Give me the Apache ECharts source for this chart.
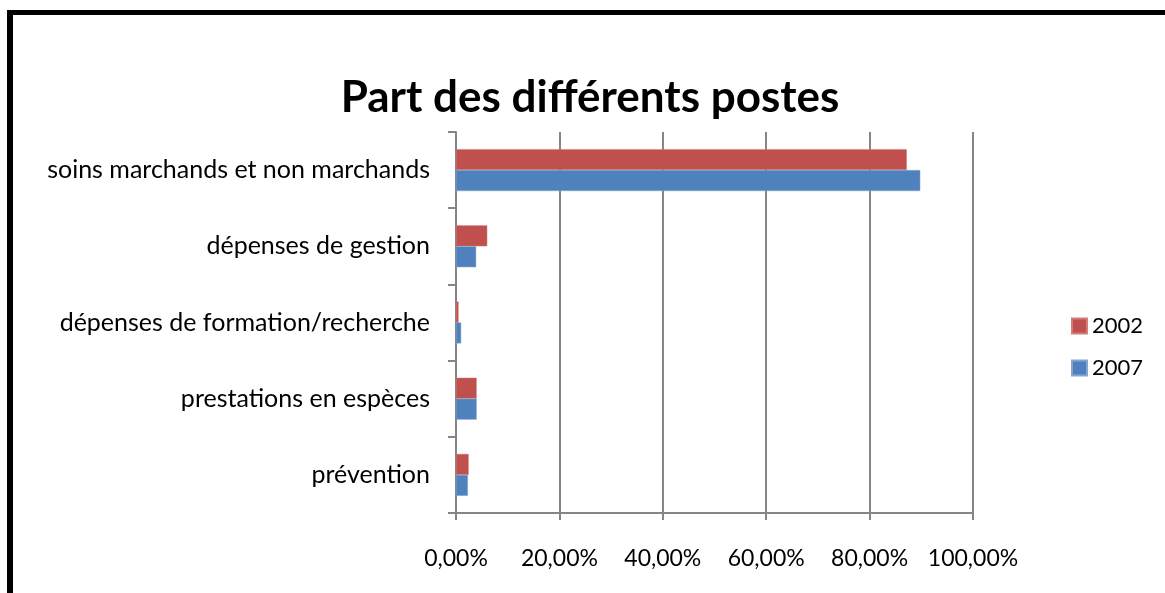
<!DOCTYPE html>
<html>
<head>
<meta charset="utf-8">
<script src="https://cdn.jsdelivr.net/npm/echarts@6/dist/echarts.min.js"></script>
<style>
  html, body { margin: 0; padding: 0; background: #fff; }
  #chart { width: 1165px; height: 593px; }
</style>
</head>
<body>
<div id="chart"></div>
<script>
// Categories listed bottom to top (category axis grows upward)
const categories = [
  'prévention',
  'prestations en espèces',
  'dépenses de formation/recherche',
  'dépenses de gestion',
  'soins marchands et non marchands'
];
const seriesNames = ['2002', '2007'];
const values2002 = [2.45, 4.0, 0.5, 6.05, 87.2];
const values2007 = [2.3, 4.0, 1.0, 3.9, 89.8];
const xTicks = [0, 20, 40, 60, 80, 100];

const FONT = 'Lato, "Open Sans", sans-serif';
const chart = echarts.init(document.getElementById('chart'), null, { renderer: 'canvas' });

const fmt = v => v.toFixed(2).replace('.', ',') + '%';

chart.setOption({
  backgroundColor: '#ffffff',
  animation: false,
  title: {
    text: 'Part des différents postes',
    left: 585,
    textAlign: 'center',
    top: 71,
    textStyle: { fontFamily: FONT, fontWeight: 'bold', fontSize: 44, color: '#000' }
  },
  legend: {
    orient: 'vertical',
    left: 1066,
    top: 310,
    icon: 'rect',
    itemWidth: 15,
    itemHeight: 15,
    itemGap: 20,
    data: seriesNames,
    textStyle: { fontFamily: FONT, fontSize: 22, color: '#000' }
  },
  grid: { left: 456, right: 192, top: 132, bottom: 80, containLabel: false },
  xAxis: {
    type: 'value',
    min: xTicks[0],
    max: xTicks[xTicks.length - 1],
    interval: 20,
    axisLine: { show: true, lineStyle: { color: '#868686', width: 2 } },
    axisTick: { show: true, length: 7, lineStyle: { color: '#868686', width: 2 } },
    splitLine: { show: true, lineStyle: { color: '#868686', width: 2 } },
    axisLabel: { formatter: fmt, margin: 34, fontFamily: FONT, fontSize: 23, color: '#000' }
  },
  yAxis: {
    type: 'category',
    data: categories,
    axisLine: { show: true, lineStyle: { color: '#868686', width: 2 } },
    axisTick: { show: true, length: 8, lineStyle: { color: '#868686', width: 2 } },
    axisLabel: { margin: 26, fontFamily: FONT, fontSize: 25, color: '#000' }
  },
  series: [
    {
      name: seriesNames[0],
      type: 'bar',
      data: values2002,
      barGap: '0%',
      barCategoryGap: '45%',
      itemStyle: { color: '#C0504D', borderColor: '#D07D7B', borderWidth: 0.5 }
    },
    {
      name: seriesNames[1],
      type: 'bar',
      data: values2007,
      barGap: '0%',
      barCategoryGap: '45%',
      itemStyle: { color: '#4F81BD', borderColor: '#85A6D0', borderWidth: 0.5 }
    }
  ],
  graphic: [
    { type: 'rect', shape: { x: 7, y: 10, width: 1158, height: 5 }, style: { fill: '#000' } },
    { type: 'rect', shape: { x: 7, y: 10, width: 6, height: 583 }, style: { fill: '#000' } }
  ]
});
</script>
</body>
</html>
